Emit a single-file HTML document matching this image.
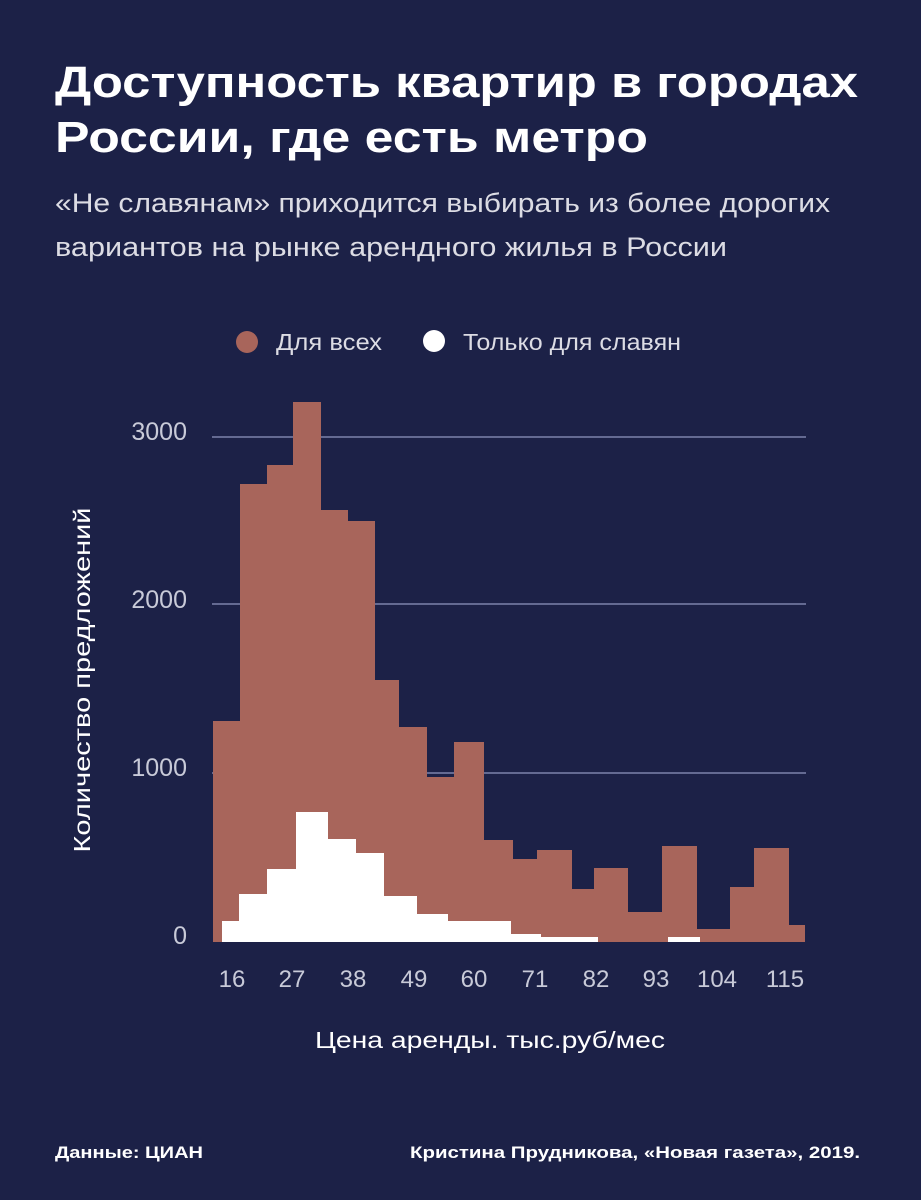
<!DOCTYPE html>
<html><head><meta charset="utf-8"><style>
html,body{margin:0;padding:0;background:#1c2147;}
svg{display:block}
text{font-family:"Liberation Sans",sans-serif}
</style></head><body>
<svg width="921" height="1200" viewBox="0 0 921 1200" xmlns="http://www.w3.org/2000/svg">
<rect width="921" height="1200" fill="#1c2147"/>
<text x="55" y="97" font-size="44" font-weight="bold" fill="#fff" textLength="803" lengthAdjust="spacingAndGlyphs">Доступность квартир в городах</text>
<text x="55" y="152" font-size="44" font-weight="bold" fill="#fff" textLength="593" lengthAdjust="spacingAndGlyphs">России, где есть метро</text>
<text x="55" y="212" font-size="27" fill="#dcdce4" textLength="775" lengthAdjust="spacingAndGlyphs">«Не славянам» приходится выбирать из более дорогих</text>
<text x="55" y="256" font-size="27" fill="#dcdce4" textLength="672" lengthAdjust="spacingAndGlyphs">вариантов на рынке арендного жилья в России</text>
<circle cx="247" cy="342" r="11" fill="#a8655b"/>
<text x="276" y="350" font-size="23" fill="#dcdce4" textLength="106" lengthAdjust="spacingAndGlyphs">Для всех</text>
<circle cx="434" cy="341" r="11" fill="#fff"/>
<text x="463" y="350" font-size="23" fill="#dcdce4" textLength="218" lengthAdjust="spacingAndGlyphs">Только для славян</text>
<g stroke="#8f96c0" stroke-width="1.2">
<line x1="212" y1="437" x2="806" y2="437"/>
<line x1="212" y1="604" x2="806" y2="604"/>
<line x1="212" y1="773" x2="806" y2="773"/>
</g>
<g fill="#a8655b">
<rect x="213" y="721" width="27" height="221"/>
<rect x="240" y="484" width="27" height="458"/>
<rect x="267" y="465" width="26" height="477"/>
<rect x="293" y="402" width="28" height="540"/>
<rect x="321" y="510" width="27" height="432"/>
<rect x="348" y="521" width="27" height="421"/>
<rect x="375" y="680" width="24" height="262"/>
<rect x="399" y="727" width="28" height="215"/>
<rect x="427" y="777" width="27" height="165"/>
<rect x="454" y="742" width="30" height="200"/>
<rect x="484" y="840" width="29" height="102"/>
<rect x="513" y="859" width="24" height="83"/>
<rect x="537" y="850" width="35" height="92"/>
<rect x="572" y="889" width="22" height="53"/>
<rect x="594" y="868" width="34" height="74"/>
<rect x="628" y="912" width="34" height="30"/>
<rect x="662" y="846" width="35" height="96"/>
<rect x="697" y="929" width="33" height="13"/>
<rect x="730" y="887" width="24" height="55"/>
<rect x="754" y="848" width="35" height="94"/>
<rect x="789" y="925" width="16" height="17"/>
</g>
<g fill="#fff">
<rect x="222" y="921" width="17" height="21"/>
<rect x="239" y="894" width="28" height="48"/>
<rect x="267" y="869" width="29" height="73"/>
<rect x="296" y="812" width="32" height="130"/>
<rect x="328" y="839" width="28" height="103"/>
<rect x="356" y="853" width="28" height="89"/>
<rect x="384" y="896" width="33" height="46"/>
<rect x="417" y="914" width="31" height="28"/>
<rect x="448" y="921" width="63" height="21"/>
<rect x="511" y="934" width="30" height="8"/>
<rect x="541" y="937" width="57" height="5"/>
<rect x="668" y="937" width="32" height="5"/>
</g>
<g font-size="25" fill="#c8cad8" text-anchor="end">
<text x="187" y="440">3000</text>
<text x="187" y="608">2000</text>
<text x="187" y="776">1000</text>
<text x="187" y="944">0</text>
</g>
<g font-size="24" fill="#c8cad8" text-anchor="middle">
<text x="232" y="987">16</text>
<text x="292" y="987">27</text>
<text x="353" y="987">38</text>
<text x="414" y="987">49</text>
<text x="474" y="987">60</text>
<text x="535" y="987">71</text>
<text x="596" y="987">82</text>
<text x="656" y="987">93</text>
<text x="717" y="987">104</text>
<text x="785" y="987">115</text>
</g>
<text x="490" y="1048" font-size="23" fill="#fff" text-anchor="middle" textLength="350" lengthAdjust="spacingAndGlyphs">Цена аренды. тыс.руб/мес</text>
<text transform="translate(90,680) rotate(-90)" font-size="23" fill="#fff" text-anchor="middle" textLength="345" lengthAdjust="spacingAndGlyphs">Количество предложений</text>
<text x="55" y="1158" font-size="17" font-weight="bold" fill="#fff" textLength="148" lengthAdjust="spacingAndGlyphs">Данные: ЦИАН</text>
<text x="410" y="1158" font-size="17" font-weight="bold" fill="#fff" textLength="450" lengthAdjust="spacingAndGlyphs">Кристина Прудникова, «Новая газета», 2019.</text>
</svg>
</body></html>
